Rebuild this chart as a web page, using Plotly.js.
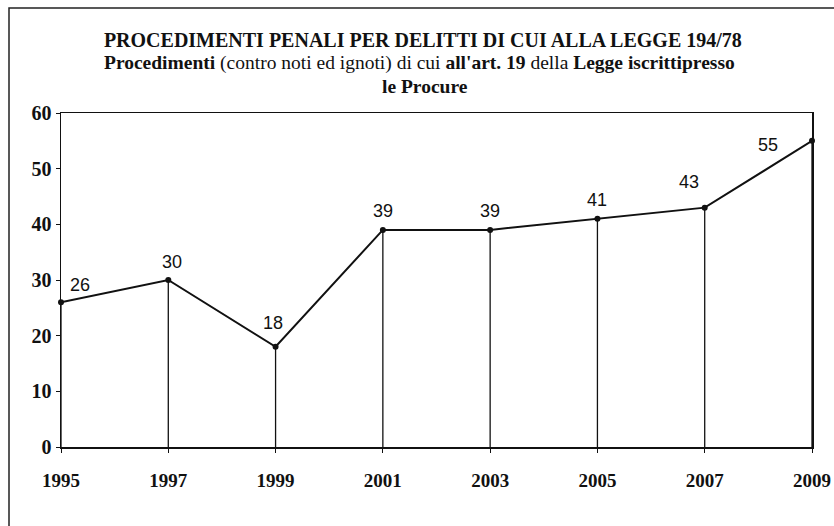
<!DOCTYPE html>
<html>
<head>
<meta charset="utf-8">
<script src="https://cdn.plot.ly/plotly-3.0.1.min.js"></script>
<style>html,body{margin:0;padding:0;background:#fff;}#chart{width:834px;height:526px;}</style>
</head>
<body>
<div id="chart"></div>
<script>
const years = [1995, 1997, 1999, 2001, 2003, 2005, 2007, 2009];
const values = [26, 30, 18, 39, 39, 41, 43, 55];
const yTicks = [0, 10, 20, 30, 40, 50, 60];
const titleLine1 = "PROCEDIMENTI PENALI PER DELITTI DI CUI ALLA LEGGE 194/78";
const titleLine2 = "<b>Procedimenti</b> (contro noti ed ignoti) di cui <b>all'art. 19</b> della <b>Legge iscrittipresso</b>";
const titleLine3 = "<b>le Procure</b>";

// label offsets (pixels) relative to each point
const labelDx = [19, 4, -3, 0, 0, 0, -16, -44];
const labelDy = [17, 18, 24, 19, 19, 19, 26, -4];

const serif = "Liberation Serif, Times New Roman, serif";
const sans = "Liberation Sans, Arial, sans-serif";

const traces = [];
// drop lines
years.forEach((yr, i) => {
  traces.push({
    x: [yr, yr], y: [0, values[i]], mode: 'lines', type: 'scatter',
    line: {color: '#111', width: 1.3}, hoverinfo: 'skip', showlegend: false
  });
});
traces.push({
  x: years, y: values, mode: 'lines+markers', type: 'scatter',
  line: {color: '#111', width: 2}, marker: {color: '#111', size: 6},
  showlegend: false, cliponaxis: false
});

const annotations = years.map((yr, i) => ({
  x: yr, y: values[i], xref: 'x', yref: 'y', text: String(values[i]),
  showarrow: false, xshift: labelDx[i], yshift: labelDy[i],
  font: {family: sans, size: 18, color: '#111'}
}));
annotations.push({
  xref: 'paper', yref: 'paper', x: 0.478, y: (447 - 63) / 334, xanchor: 'center', yanchor: 'middle',
  text: titleLine2, showarrow: false, font: {family: serif, size: 19.5, color: '#111'}
});
annotations.push({
  xref: 'paper', yref: 'paper', x: 0.485, y: (447 - 87) / 334, xanchor: 'center', yanchor: 'middle',
  text: titleLine3, showarrow: false, font: {family: serif, size: 19.5, color: '#111'}
});

const layout = {
  width: 834, height: 526,
  margin: {l: 61, r: 22, t: 113, b: 79},
  paper_bgcolor: '#fff', plot_bgcolor: '#fff',
  title: {
    text: '<b>' + titleLine1 + '</b>', x: 0.507, xanchor: 'center', y: 1 - 40 / 526, yanchor: 'middle',
    font: {family: serif, size: 20, color: '#111'}
  },
  xaxis: {
    range: [1995, 2009], tickvals: years, ticktext: years.map(String),
    showgrid: false, zeroline: false, showline: true, mirror: true,
    linecolor: '#111', linewidth: 1.5, ticks: 'outside', ticklen: 4, tickcolor: '#111',
    tickfont: {family: serif, size: 19, color: '#111', weight: 'bold'}, ticklabelstandoff: 12
  },
  yaxis: {
    range: [0, 60], tickvals: yTicks, showgrid: false, zeroline: false,
    showline: true, mirror: true, linecolor: '#111', linewidth: 1.5,
    ticks: 'outside', ticklen: 4, tickcolor: '#111',
    tickfont: {family: serif, size: 20, color: '#111', weight: 'bold'}
  },
  annotations: annotations,
  shapes: [{
    type: 'rect', xref: 'paper', yref: 'paper',
    x0: (9 - 61) / 751, x1: (900 - 61) / 751, y0: (447 - 600) / 334, y1: (447 - 8) / 334,
    line: {color: '#222', width: 1.5}, fillcolor: 'rgba(0,0,0,0)', layer: 'below'
  }]
};

Plotly.newPlot('chart', traces, layout, {displayModeBar: false, staticPlot: true});
</script>
</body>
</html>
